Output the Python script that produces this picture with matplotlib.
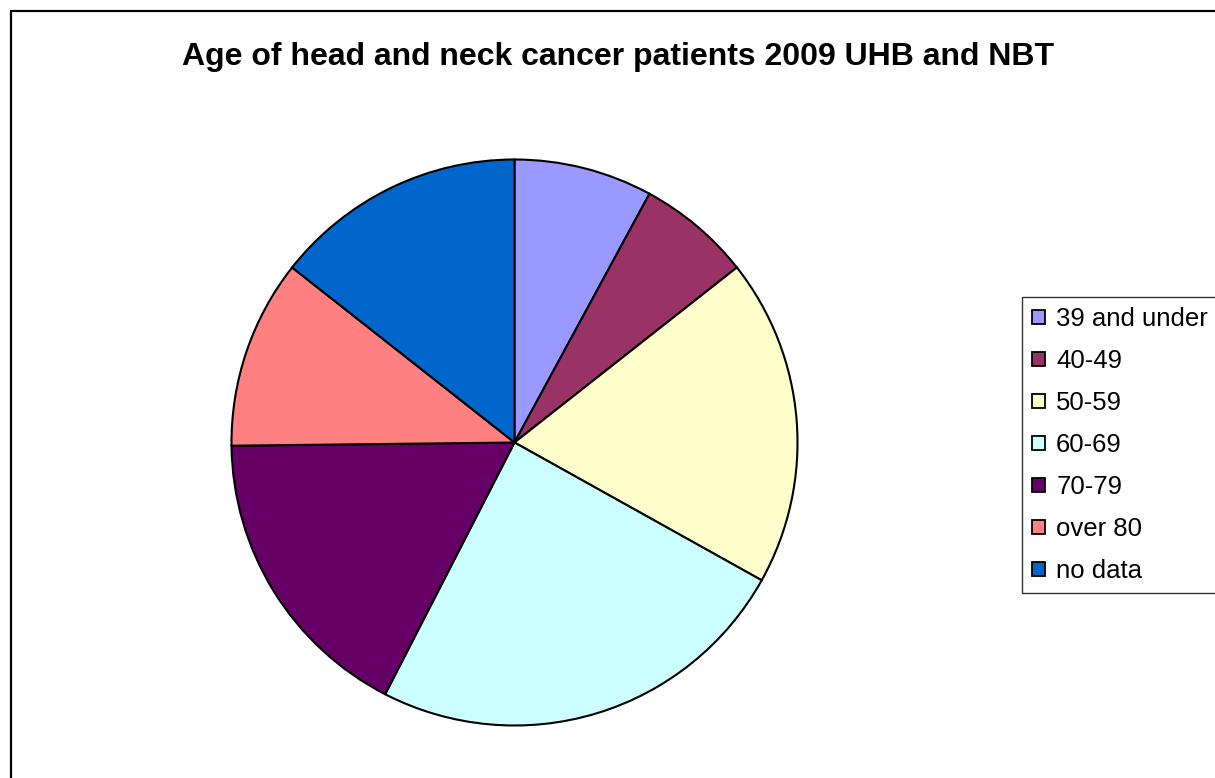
import matplotlib
matplotlib.use("Agg")
import matplotlib.pyplot as plt
from matplotlib.patches import Rectangle, Patch

plt.rcParams["font.family"] = ["Liberation Sans", "DejaVu Sans"]

# Patients per age band
age_groups = ["39 and under", "40-49", "50-59", "60-69", "70-79", "over 80", "no data"]
patients = [11, 9, 26, 34, 24, 15, 20]
colors = ["#9999FF", "#993366", "#FFFFCC", "#CCFFFF", "#660066", "#FF8080", "#0066CC"]
title = "Age of head and neck cancer patients 2009 UHB and NBT"

W, H = 1215, 778
fig = plt.figure(figsize=(W / 100, H / 100), dpi=100)
fig.patch.set_facecolor("white")

# Outer chart border (runs off the right and bottom edges)
fig.add_artist(Rectangle((11 / W, -0.2), 2.0, 1.2 - 11 / H, transform=fig.transFigure,
                         fill=False, edgecolor="black", linewidth=1.6))

# Pie axes: centre and radius in pixels
cx, cy, r = 514.5, 442.5, 283
ax = fig.add_axes([(cx - r) / W, (H - cy - r) / H, 2 * r / W, 2 * r / H])
wedges, _ = ax.pie(patients, colors=colors, startangle=90, counterclock=False,
                   wedgeprops=dict(edgecolor="black", linewidth=1.5))
ax.set_xlim(-1, 1)
ax.set_ylim(-1, 1)
ax.set_aspect("equal")
ax.axis("off")

fig.text(618.5 / W, 1 - 57 / H, title, ha="center", va="center",
         fontsize=23, fontweight="bold")

handles = [Patch(facecolor=c, edgecolor="black", linewidth=1.3) for c in colors]
leg = fig.legend(handles, age_groups, loc="upper left",
                 bbox_to_anchor=(1022 / W, 1 - 297 / H),
                 fontsize=18.5, frameon=True, fancybox=False, shadow=False,
                 handlelength=0.48, handleheight=0.48, handletextpad=0.45,
                 labelspacing=0.7, borderpad=0.4, borderaxespad=0)
leg.get_frame().set_edgecolor("black")
leg.get_frame().set_linewidth(1.0)

fig.savefig("out.png", dpi=100, facecolor="white")
